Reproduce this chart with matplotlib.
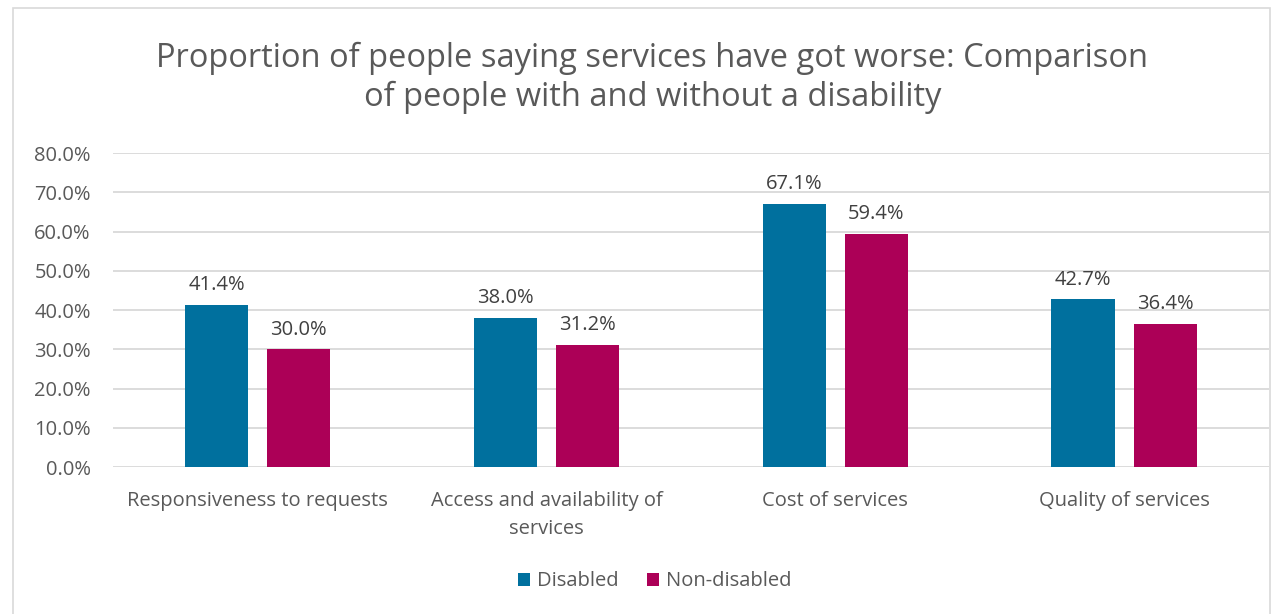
import numpy as np
import matplotlib.pyplot as plt
from matplotlib.patches import Rectangle
from matplotlib.ticker import FuncFormatter

plt.rcParams['font.family'] = ['Open Sans', 'DejaVu Sans']

# data
categories = ['Responsiveness to requests', 'Access and availability of\nservices',
              'Cost of services', 'Quality of services']
disabled = [41.4, 38.0, 67.1, 42.7]
non_disabled = [30.0, 31.2, 59.4, 36.4]
series_names = ['Disabled', 'Non-disabled']
yticks = [0, 10, 20, 30, 40, 50, 60, 70, 80]

BLUE = '#00709E'
MAGENTA = '#AC0057'
TEXT = '#595959'
GRID = '#D9D9D9'

fig = plt.figure(figsize=(12.79, 6.14), dpi=100)
ax = fig.add_axes([0.0884, 0.2394, 0.9036, 0.5114])

# chart border
fig.patches.append(Rectangle((0.0102, -0.05), 0.9828, 1.037, transform=fig.transFigure,
                             fill=False, edgecolor='#D9D9D9', linewidth=1.2))

x = np.arange(len(categories))
w = 0.22
off = 0.142
b1 = ax.bar(x - off, disabled, w, color=BLUE, label=series_names[0], zorder=3)
b2 = ax.bar(x + off, non_disabled, w, color=MAGENTA, label=series_names[1], zorder=3)

for bars, vals in ((b1, disabled), (b2, non_disabled)):
    for rect, v in zip(bars, vals):
        ax.annotate(f'{v:.1f}%', (rect.get_x() + rect.get_width() / 2, v),
                    xytext=(0, 7), textcoords='offset points', ha='center', va='bottom',
                    fontsize=14.5, color='#404040')

ax.set_xlim(-0.5, len(categories) - 0.5)
ax.set_ylim(0, 80)
ax.set_yticks(yticks)
ax.yaxis.set_major_formatter(FuncFormatter(lambda v, p: f'{v:.1f}%'))
ax.set_xticks(x)
ax.set_xticklabels(categories, fontsize=14.5, color=TEXT, linespacing=1.55)
ax.tick_params(axis='y', labelsize=14.5, labelcolor=TEXT, length=0, pad=16)
ax.tick_params(axis='x', length=0, pad=17)
ax.grid(axis='y', color=GRID, linewidth=1.3, zorder=0)
for s in ax.spines.values():
    s.set_visible(False)

fig.text(0.51, 0.873, 'Proportion of people saying services have got worse: Comparison\nof people with and without a disability',
         ha='center', va='center', fontsize=23.5, color=TEXT, linespacing=1.25)

fig.legend(loc='center', bbox_to_anchor=(0.512, 0.053), ncol=2, frameon=False,
           fontsize=14.5, labelcolor=TEXT, handlelength=0.6, handleheight=0.6,
           handletextpad=0.35, columnspacing=1.4)

fig.savefig('out.png', dpi=100)
